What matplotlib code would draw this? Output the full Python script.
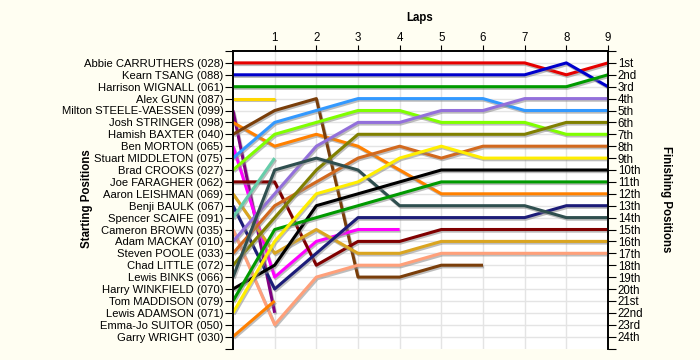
import matplotlib
matplotlib.use('Agg')
import matplotlib.pyplot as plt
import matplotlib.patheffects as pe

plt.rcParams['font.family'] = ['Liberation Sans', 'DejaVu Sans']

# Riders in starting order
riders = ['Abbie CARRUTHERS (028)', 'Kearn TSANG (088)', 'Harrison WIGNALL (061)',
          'Alex GUNN (087)', 'Milton STEELE-VAESSEN (099)', 'Josh STRINGER (098)',
          'Hamish BAXTER (040)', 'Ben MORTON (065)', 'Stuart MIDDLETON (075)',
          'Brad CROOKS (027)', 'Joe FARAGHER (062)', 'Aaron LEISHMAN (069)',
          'Benji BAULK (067)', 'Spencer SCAIFE (091)', 'Cameron BROWN (035)',
          'Adam MACKAY (010)', 'Steven POOLE (033)', 'Chad LITTLE (072)',
          'Lewis BINKS (066)', 'Harry WINKFIELD (070)', 'Tom MADDISON (079)',
          'Lewis ADAMSON (071)', 'Emma-Jo SUITOR (050)', 'Garry WRIGHT (030)']

colors = ['#E60000', '#0000CC', '#009A00', '#FFD700', '#800080', '#FF8000',
          '#7A3E0A', '#FF00FF', '#3399FF', '#80FF00', '#800000', '#DAA520',
          '#1C1C78', '#66CDAA', '#FFA07A', '#9370DB', '#D2691E', '#808000',
          '#2F4F4F', '#000000', '#009A00', '#FFEE00', '#888888', '#FF8000']

# Position at end of each lap (lap 0 = start)
positions = [
    [1, 1, 1, 1, 1, 1, 1, 1, 2, 1],
    [2, 2, 2, 2, 2, 2, 2, 2, 1, 3],
    [3, 3, 3, 3, 3, 3, 3, 3, 3, 2],
    [4, 4],
    [5, 22],
    [6, 8, 7, 8, 10, 12, 12, 12, 12, 12],
    [7, 5, 4, 19, 19, 18, 18],
    [8, 19, 16, 15, 15],
    [9, 6, 5, 4, 4, 4, 4, 5, 5, 5],
    [10, 7, 6, 5, 5, 6, 6, 6, 7, 7],
    [11, 11, 18, 16, 16, 15, 15, 15, 15, 15],
    [12, 17, 15, 17, 17, 16, 16, 16, 16, 16],
    [13, 20, 17, 14, 14, 14, 14, 14, 13, 13],
    [14, 9],
    [15, 23, 19, 18, 18, 17, 17, 17, 17, 17],
    [16, 12, 8, 6, 6, 5, 5, 4, 4, 4],
    [17, 13, 11, 9, 8, 9, 8, 8, 8, 8],
    [18, 14, 10, 7, 7, 7, 7, 7, 6, 6],
    [19, 10, 9, 10, 13, 13, 13, 13, 14, 14],
    [20, 18, 13, 12, 11, 10, 10, 10, 10, 10],
    [21, 15, 14, 13, 12, 11, 11, 11, 11, 11],
    [22, 16, 12, 11, 9, 8, 9, 9, 9, 9],
    [23],
    [24, 21],
]

laps = list(range(10))
finish_labels = ['1st', '2nd', '3rd'] + [f'{i}th' for i in range(4, 21)] + ['21st', '22nd', '23rd', '24th']

fig = plt.figure(figsize=(7, 3.6), dpi=100, facecolor='#FFFEF2')
ax = fig.add_axes([233 / 700, 1 - 348.5 / 360, 375 / 700, 297.5 / 360])
ax.set_facecolor('white')

shadow = [pe.SimpleLineShadow(offset=(0.8, -1.2), shadow_color='#888888', alpha=0.55), pe.Normal()]
for name, col, pos in zip(riders, colors, positions):
    if len(pos) < 2:
        continue
    ax.plot(laps[:len(pos)], pos, color=col, lw=2.2, solid_capstyle='butt',
            path_effects=shadow, zorder=3)

ax.set_xlim(0, 9)
ax.set_ylim(25, 0)

# grid
for x in range(1, 9):
    ax.axvline(x, color='#E4E4E4', lw=1, zorder=1)
for y in range(1, 25):
    ax.axhline(y, color='#E4E4E4', lw=1, zorder=1)

ax.xaxis.tick_top()
ax.set_xticks(range(1, 10))
ax.tick_params(axis='x', length=4, labelsize=8.3, pad=1)

ax.set_yticks(range(0, 26))
ax.set_yticklabels([''] + riders + [''], fontsize=8.1)
ax.tick_params(axis='y', length=6, pad=1)

ax2 = ax.twinx()
ax2.set_ylim(25, 0)
ax2.set_yticks(range(0, 26))
ax2.set_yticklabels([''] + finish_labels + [''], fontsize=8.3)
ax2.tick_params(axis='y', length=6, pad=1)

for a in (ax, ax2):
    a.spines['bottom'].set_visible(False)
    for s in ('left', 'right', 'top'):
        a.spines[s].set_linewidth(1.2)

fig.text(420 / 700, 1 - 18 / 360, 'Laps', fontweight='bold', fontsize=8.3,
         ha='center', va='center')
fig.text(87 / 700, 1 - 199 / 360, 'Starting Positions', fontweight='bold', fontsize=8.3,
         rotation=90, ha='center', va='center')
fig.text(666 / 700, 1 - 199 / 360, 'Finishing Positions', fontweight='bold', fontsize=8.3,
         rotation=270, ha='center', va='center')

fig.savefig('out.png', dpi=100, facecolor=fig.get_facecolor())
